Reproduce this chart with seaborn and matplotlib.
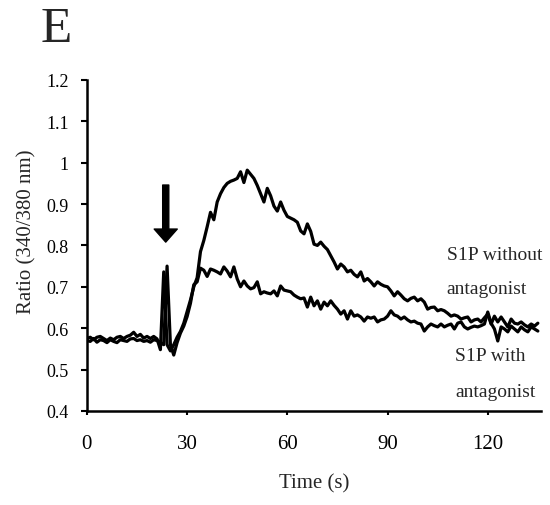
import numpy as np
import pandas as pd
import matplotlib
matplotlib.use("Agg")
import matplotlib.pyplot as plt
import seaborn as sns

# sampling grid, 1 s per point
time_s = list(range(136))

# S1P without antagonist
without_ant = [
    0.575, 0.578, 0.572, 0.578, 0.580, 0.575, 0.570, 0.576, 0.572, 0.578,
    0.580, 0.575, 0.580, 0.583, 0.590, 0.580, 0.585, 0.576, 0.580, 0.575,
    0.580, 0.574, 0.548, 0.736, 0.560, 0.545, 0.560, 0.578, 0.592, 0.612,
    0.640, 0.668, 0.700, 0.722, 0.785, 0.812, 0.845, 0.880, 0.862, 0.905,
    0.925, 0.940, 0.950, 0.955, 0.958, 0.962, 0.978, 0.952, 0.982, 0.972,
    0.962, 0.945, 0.925, 0.905, 0.938, 0.920, 0.895, 0.883, 0.905, 0.885,
    0.870, 0.866, 0.862, 0.856, 0.835, 0.828, 0.852, 0.834, 0.803, 0.800,
    0.808, 0.798, 0.790, 0.775, 0.760, 0.743, 0.755, 0.748, 0.736, 0.740,
    0.730, 0.724, 0.736, 0.714, 0.720, 0.712, 0.702, 0.712, 0.706, 0.702,
    0.700, 0.690, 0.678, 0.688, 0.680, 0.671, 0.666, 0.672, 0.675, 0.666,
    0.671, 0.663, 0.646, 0.650, 0.651, 0.642, 0.645, 0.642, 0.636, 0.629,
    0.632, 0.629, 0.622, 0.625, 0.627, 0.615, 0.620, 0.622, 0.615, 0.625,
    0.634, 0.610, 0.629, 0.615, 0.627, 0.615, 0.603, 0.622, 0.612, 0.610,
    0.615, 0.608, 0.603, 0.610, 0.605, 0.612,
]

# S1P with antagonist
with_ant = [
    0.570, 0.568, 0.575, 0.566, 0.572, 0.570, 0.565, 0.572, 0.568, 0.565,
    0.572, 0.570, 0.568, 0.574, 0.575, 0.570, 0.572, 0.568, 0.570, 0.566,
    0.572, 0.570, 0.565, 0.560, 0.750, 0.560, 0.535, 0.565, 0.588, 0.605,
    0.628, 0.660, 0.705, 0.712, 0.745, 0.740, 0.725, 0.743, 0.740, 0.736,
    0.731, 0.748, 0.738, 0.724, 0.748, 0.719, 0.700, 0.714, 0.702, 0.695,
    0.698, 0.712, 0.683, 0.688, 0.685, 0.683, 0.690, 0.678, 0.702, 0.692,
    0.690, 0.688, 0.680, 0.675, 0.671, 0.673, 0.651, 0.675, 0.654, 0.666,
    0.646, 0.663, 0.654, 0.666, 0.655, 0.646, 0.634, 0.642, 0.622, 0.642,
    0.629, 0.632, 0.627, 0.617, 0.627, 0.624, 0.627, 0.615, 0.620, 0.622,
    0.629, 0.642, 0.632, 0.629, 0.622, 0.627, 0.620, 0.615, 0.617, 0.612,
    0.610, 0.593, 0.603, 0.610, 0.606, 0.603, 0.610, 0.603, 0.607, 0.610,
    0.598, 0.612, 0.615, 0.603, 0.598, 0.602, 0.605, 0.603, 0.606, 0.610,
    0.639, 0.612, 0.598, 0.569, 0.603, 0.598, 0.591, 0.605, 0.598, 0.591,
    0.603, 0.596, 0.591, 0.603, 0.598, 0.593,
]

xticks = [0, 30, 60, 90, 120]
yticks = [0.4, 0.5, 0.6, 0.7, 0.8, 0.9, 1.0, 1.1, 1.2]
ytick_labels = ["0.4", "0.5", "0.6", "0.7", "0.8", "0.9", "1", "1.1", "1.2"]

df = pd.DataFrame({"Time": time_s, "without": without_ant, "with": with_ant})

sns.set_style("ticks")
plt.rcParams["font.family"] = ["Liberation Serif", "DejaVu Serif"]

fig = plt.figure(figsize=(5.5, 5.06), dpi=100)
ax = fig.add_axes([0.158, 0.186, 0.826, 0.654])

sns.lineplot(data=df, x="Time", y="without", color="black", lw=2.3, ax=ax)
sns.lineplot(data=df, x="Time", y="with", color="black", lw=2.3, ax=ax)

ax.set_xlim(0, 136)
ax.set_ylim(0.4, 1.2)
ax.set_xticks(xticks)
ax.set_yticks(yticks)
ax.set_yticklabels(ytick_labels)
ax.tick_params(axis="y", labelsize=13, length=4, width=1.5, pad=9, colors="black")
ax.tick_params(axis="x", labelsize=15, length=3, width=1.5, pad=14, colors="black")
for side in ["left", "bottom"]:
    ax.spines[side].set_linewidth(1.8)
    ax.spines[side].set_color("black")
sns.despine(ax=ax)

ax.set_xlabel("Time (s)", fontsize=15, labelpad=14)
ax.set_ylabel("Ratio (340/380 nm)", fontsize=15)
ax.yaxis.set_label_coords(-0.112, 0.544)

# stimulus arrow
ax.annotate("", xy=(23.6, 0.808), xytext=(23.6, 0.946),
            arrowprops=dict(arrowstyle="simple,head_length=0.47,head_width=0.83,tail_width=0.22",
                            mutation_scale=20, color="black", shrinkA=0, shrinkB=0))

ax.text(122.0, 0.779, "S1P without", fontsize=14, ha="center", va="center")
ax.text(119.6, 0.695, "antagonist", fontsize=14, ha="center", va="center")
ax.text(120.8, 0.533, "S1P with", fontsize=14, ha="center", va="center")
ax.text(122.3, 0.448, "antagonist", fontsize=14, ha="center", va="center")

fig.text(56 / 550, 1 - 30 / 506, "E", fontsize=37, ha="center", va="center")

fig.savefig("out.png", dpi=100)
